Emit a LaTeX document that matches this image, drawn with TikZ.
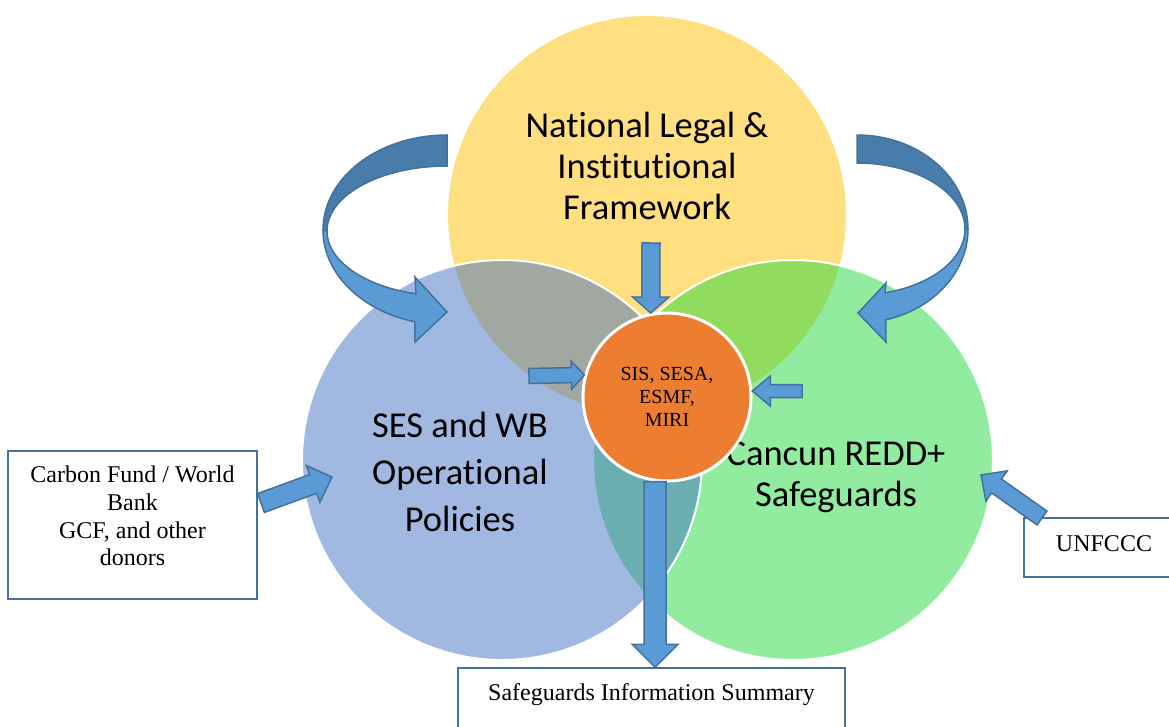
\documentclass[tikz,border=0pt]{standalone}
\usepackage{fontspec}
\setmainfont{Liberation Serif}
\newfontfamily\calibri[Ligatures=NoCommon]{Carlito}
\usepackage{tikz}
\usetikzlibrary{calc}
\definecolor{legalgold}{HTML}{FFC000}
\definecolor{sesblue}{HTML}{4472C4}
\definecolor{cancungreen}{RGB}{37,217,65}
\definecolor{huborange}{HTML}{ED7D31}
\definecolor{arrowfill}{HTML}{5B9BD5}
\definecolor{arrowline}{HTML}{41719C}
\definecolor{arrowback}{RGB}{72,124,170}
\tikzset{
    venn/.style={circle, minimum size=400pt, inner sep=0pt, draw=white, line width=2pt, fill opacity=0.5},
    venntext/.style={align=center, font=\calibri\fontsize{36.5}{41}\selectfont},
    hubnode/.style={circle, minimum size=168pt, inner sep=0pt, fill=huborange, draw=white, line width=3pt,
        align=center, font=\fontsize{20}{23}\selectfont},
    srcbox/.style={rectangle, draw=arrowline, line width=1.5pt, fill=white, inner sep=0pt},
    srctext/.style={align=center, font=\fontsize{24}{27.6}\selectfont},
    blockarrow/.style={fill=arrowfill, draw=arrowline, line width=1.5pt},
    backface/.style={fill=arrowback, draw=arrowline, line width=1.5pt},
    frontface/.style={fill=arrowfill, draw=arrowline, line width=1.5pt},
}
% straight block arrow: from, to, half shaft, half head, head length
\newcommand{\blockarrow}[5]{%
    \coordinate (hb) at ($(#2)!#5!(#1)$);
    \draw[blockarrow] ($(#1)!#3!90:(#2)$) -- ($(hb)!#3!90:(#2)$) -- ($(hb)!#4!90:(#2)$) -- (#2)
        -- ($(hb)!#4!-90:(#2)$) -- ($(hb)!#3!-90:(#2)$) -- ($(#1)!#3!-90:(#2)$) -- cycle;
}
\begin{document}
\begin{tikzpicture}[x=1pt, y=-1pt]
    \useasboundingbox (0,0) rectangle (1169,726);
    \clip (0,0) rectangle (1169,726);
    % the three sets
    \node[venn, fill=legalgold] (legal) at (647,215) {};
    \node[venn, fill=cancungreen] (cancun) at (793,460) {};
    \node[venn, fill=sesblue] (ses) at (502,460) {};
    \node[venntext] (legaltxt) at (647,166) {National Legal \&\\Institutional\\Framework};
    \node[venntext, font=\calibri\fontsize{36.5}{47}\selectfont] (sestxt) at (460,472) {SES and WB\\Operational\\Policies};
    \node[venntext] (cancuntxt) at (836,477) {Cancun REDD+\\Safeguards};
    \node[hubnode] (hub) at (667,397) {SIS, SESA,\\ESMF,\\MIRI};
    % sources and output
    \node[srcbox, minimum width=249pt, minimum height=148pt] (donorsbox) at (132.5,525) {};
    \node[srctext] (donorstxt) at (132.5,516) {Carbon Fund / World\\Bank\\GCF, and other\\donors};
    \node[srcbox, minimum width=160pt, minimum height=59pt] (unfcccbox) at (1104,547.5) {};
    \node[srctext, anchor=base] (unfccctxt) at (1104,551) {UNFCCC};
    \node[srcbox, minimum width=387pt, minimum height=80pt] (summarybox) at (651.5,708) {};
    \node[srctext, anchor=base] (summarytxt) at (651.5,700) {Safeguards Information Summary};
    \coordinate (legalout) at (651,243);
    \coordinate (sesout) at (529,376);
    \coordinate (cancunout) at (802,391);
    \coordinate (sumin) at (hub.262 |- summarybox.north);
    \coordinate (donorsout) at (261,503);
    \coordinate (sesin) at (332,477);
    \coordinate (unfcccout) at (1042,518);
    \coordinate (cancunin) at (981,475);
    \blockarrow{legalout}{hub.101}{9pt}{18pt}{16pt}
    \blockarrow{sesout}{hub.165}{7.5pt}{14pt}{13pt}
    \blockarrow{cancunout}{hub.4}{6.5pt}{15pt}{18pt}
    \blockarrow{hub.262}{sumin}{11pt}{23pt}{23pt}
    \blockarrow{donorsout}{sesin}{10pt}{19.5pt}{20pt}
    \blockarrow{unfcccout}{cancunin}{8.5pt}{18.5pt}{19pt}
    % curved arrows, legal -> ses and legal -> cancun
    \filldraw[backface] plot[domain=270:180, samples=40] ({447+124*cos(\x)},{230+95*sin(\x)})
        -- plot[domain=180:270, samples=40] ({447+120*cos(\x)},{231+65*sin(\x)}) -- cycle;
    \filldraw[frontface] plot[domain=180:105, samples=40] ({447+124*cos(\x)},{230+95*sin(\x)})
        -- (415,342) -- (447,312) -- (415,277)
        -- plot[domain=105:180, samples=40] ({447+120*cos(\x)},{231+65*sin(\x)}) -- cycle;
    \filldraw[backface] plot[domain=270:360, samples=40] ({857+111*cos(\x)},{229+94*sin(\x)})
        -- plot[domain=360:270, samples=40] ({857+108*cos(\x)},{229+66*sin(\x)}) -- cycle;
    \filldraw[frontface] plot[domain=0:75, samples=40] ({857+111*cos(\x)},{229+94*sin(\x)})
        -- (886,342) -- (858,313) -- (886,283)
        -- plot[domain=75:0, samples=40] ({857+108*cos(\x)},{229+66*sin(\x)}) -- cycle;
\end{tikzpicture}
\end{document}
